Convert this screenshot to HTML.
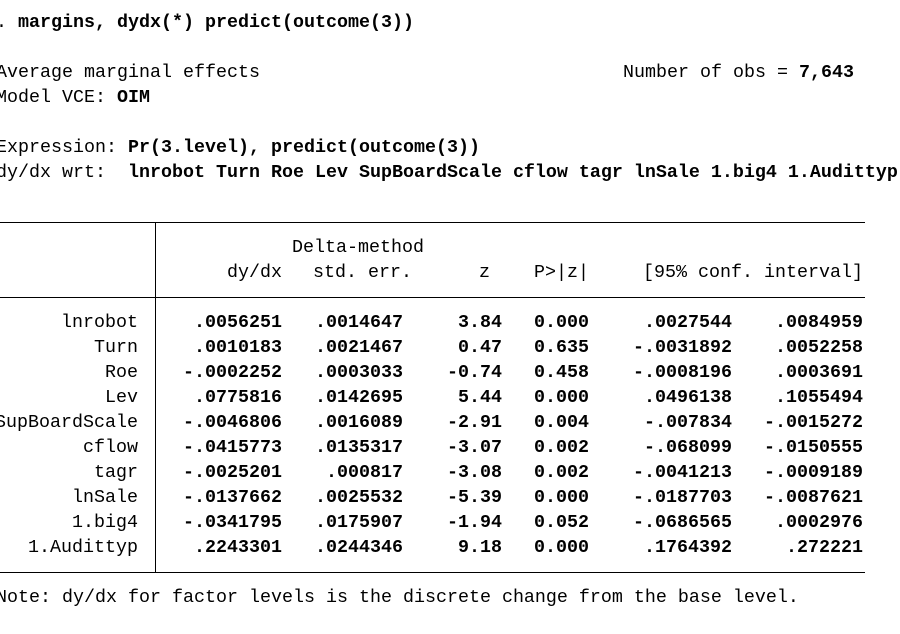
<!DOCTYPE html>
<html><head><meta charset="utf-8"><style>
body{margin:0;width:900px;height:634px;background:#fff;overflow:hidden;position:relative;font-family:"Liberation Mono",monospace;font-size:18.33px;color:#000}
.l{position:absolute;white-space:pre;line-height:25px;height:25px}
.r{position:absolute;white-space:pre;line-height:25px;text-align:right}
b{font-weight:bold}
.h{position:absolute;background:#000;height:1px}
.v{position:absolute;background:#000;width:1px}
</style></head><body>
<div class="l" style="left:-4px;top:10px">. <b>margins, dydx(*) predict(outcome(3))</b></div>
<div class="l" style="left:-4px;top:60px">Average marginal effects</div>
<div class="l" style="left:623px;top:60px">Number of obs = <b>7,643</b></div>
<div class="l" style="left:-4px;top:85px">Model VCE: <b>OIM</b></div>
<div class="l" style="left:-4px;top:135px">Expression: <b>Pr(3.level), predict(outcome(3))</b></div>
<div class="l" style="left:-4px;top:160px">dy/dx wrt:  <b>lnrobot Turn Roe Lev SupBoardScale cflow tagr lnSale 1.big4 1.Audittyp</b></div>
<div class="h" style="left:0;top:222px;width:865px"></div>
<div class="h" style="left:0;top:297px;width:865px"></div>
<div class="h" style="left:0;top:572px;width:865px"></div>
<div class="v" style="left:155px;top:222px;height:350px"></div>
<div class="l" style="left:292px;top:235px">Delta-method</div>
<div class="r" style="right:618px;top:260px">dy/dx</div>
<div class="r" style="right:488px;top:260px">std. err.</div>
<div class="r" style="right:410px;top:260px">z</div>
<div class="r" style="right:311px;top:260px">P&gt;|z|</div>
<div class="r" style="right:37px;top:260px">[95% conf. interval]</div>
<div id="rows"></div>
<div class="l" style="left:-4px;top:585px">Note: dy/dx for factor levels is the discrete change from the base level.</div>
<script>
var d=[["lnrobot",".0056251",".0014647","3.84","0.000",".0027544",".0084959"],
["Turn",".0010183",".0021467","0.47","0.635","-.0031892",".0052258"],
["Roe","-.0002252",".0003033","-0.74","0.458","-.0008196",".0003691"],
["Lev",".0775816",".0142695","5.44","0.000",".0496138",".1055494"],
["SupBoardScale","-.0046806",".0016089","-2.91","0.004","-.007834","-.0015272"],
["cflow","-.0415773",".0135317","-3.07","0.002","-.068099","-.0150555"],
["tagr","-.0025201",".000817","-3.08","0.002","-.0041213","-.0009189"],
["lnSale","-.0137662",".0025532","-5.39","0.000","-.0187703","-.0087621"],
["1.big4","-.0341795",".0175907","-1.94","0.052","-.0686565",".0002976"],
["1.Audittyp",".2243301",".0244346","9.18","0.000",".1764392",".272221"]];
var R=[762,618,497,398,311,168,37],h="";
d.forEach(function(r,i){var t=310+25*i;r.forEach(function(c,j){h+='<div class="r" style="right:'+R[j]+'px;top:'+t+'px">'+(j?'<b>'+c+'</b>':c)+'</div>';});});
document.getElementById("rows").innerHTML=h;
</script>
</body></html>
